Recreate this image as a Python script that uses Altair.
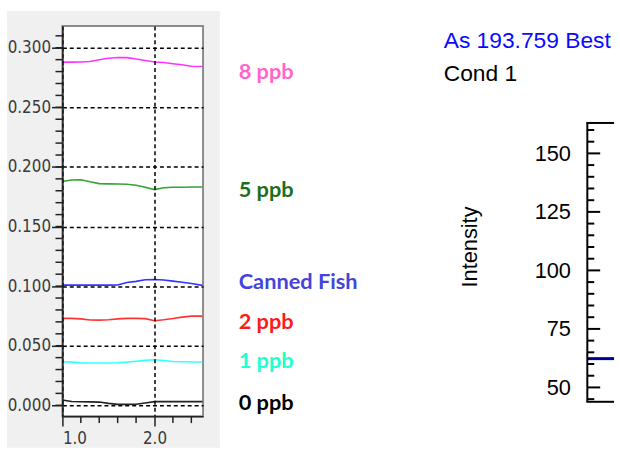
import altair as alt
import pandas as pd

# ---------------- data ----------------
x_vals = [1.0, 1.1, 1.2, 1.3, 1.4, 1.5, 1.6, 1.7, 1.8, 1.9, 2.0, 2.1, 2.2, 2.3, 2.4, 2.52]
ppb8 = [0.2879, 0.2879, 0.2880, 0.2885, 0.2900, 0.2912, 0.2918, 0.2917, 0.2905, 0.2893,
        0.2880, 0.2876, 0.2866, 0.2857, 0.2845, 0.2843]
ppb5 = [0.1878, 0.1890, 0.1892, 0.1875, 0.1860, 0.1858, 0.1857, 0.1855, 0.1846, 0.1830,
        0.1810, 0.1825, 0.1829, 0.1830, 0.1831, 0.1831]
canned = [0.1008, 0.1008, 0.1008, 0.1008, 0.1008, 0.1008, 0.1010, 0.1030, 0.1040, 0.1053,
          0.1056, 0.1052, 0.1042, 0.1032, 0.1022, 0.1006]
ppb2 = [0.0729, 0.0729, 0.0725, 0.0716, 0.0715, 0.0718, 0.0725, 0.0729, 0.0729, 0.0727,
        0.0710, 0.0718, 0.0728, 0.0740, 0.0748, 0.0748]
ppb1 = [0.0366, 0.0362, 0.0356, 0.0355, 0.0355, 0.0355, 0.0357, 0.0362, 0.0370, 0.0377,
        0.0382, 0.0376, 0.0368, 0.0365, 0.0363, 0.0363]
ppb0 = [0.0044, 0.0032, 0.0030, 0.0029, 0.0027, 0.0016, 0.0008, 0.0008, 0.0009, 0.0020,
        0.0031, 0.0031, 0.0031, 0.0031, 0.0031, 0.0031]

series_names = ["8 ppb", "5 ppb", "Canned  Fish", "2 ppb", "1 ppb", "0 ppb"]
series_values = [ppb8, ppb5, canned, ppb2, ppb1, ppb0]
line_colors = ["#ff33ff", "#33a333", "#3333ff", "#ff3333", "#33ffff", "#222222"]
label_colors = ["#ff66cc", "#1b6e1b", "#4444dd", "#ff1a1a", "#22ffcc", "#000000"]
label_y = [0.2737, 0.1748, 0.0973, 0.0640, 0.0316, -0.0039]

y_major = [0.0, 0.05, 0.1, 0.15, 0.2, 0.25, 0.3]
y_minor = [0.0, 0.01, 0.02, 0.03, 0.04, 0.05, 0.06, 0.07, 0.08, 0.09, 0.10, 0.11, 0.12,
           0.13, 0.14, 0.15, 0.16, 0.17, 0.18, 0.19, 0.20, 0.21, 0.22, 0.23, 0.24, 0.25,
           0.26, 0.27, 0.28, 0.29, 0.30, 0.31]
x_major = [1.0, 2.0]
x_minor = [1.2, 1.4, 1.6, 1.8, 2.2, 2.4]

right_title = "As 193.759 Best"
right_subtitle = "Cond 1"
right_major = [50, 75, 100, 125, 150]
right_minor = [45, 55, 60, 65, 70, 80, 85, 90, 95, 105, 110, 115, 120, 130, 135, 140,
               145, 155, 160]
right_box_top = [163.0]
right_line_x = [0.0, 1.0]
right_line_y = [62.3, 62.3]

# ---------------- tables ----------------
rows = []
for name, vals, col in zip(series_names, series_values, line_colors):
    for xv, yv in zip(x_vals, vals):
        rows.append({"x": xv, "y": yv, "series": name, "c": col})
lines_df = pd.DataFrame(rows)
labels_df = pd.DataFrame({"name": series_names, "ly": label_y, "c": label_colors})
one = pd.DataFrame({"k": [0]})

# ---------------- left panel ----------------
LW, LH = 142, 394
xs = alt.Scale(domain=[1.0, 2.527], nice=False, zero=False)
ys = alt.Scale(domain=[-0.0091, 0.3183], nice=False, zero=False)
narrow = "Liberation Sans Narrow, DejaVu Sans Condensed, Liberation Sans"

x_axis = alt.Axis(
    values=x_major, format=".1f", title=None, zindex=1,
    grid=True, gridColor="black", gridDash=[4, 3], gridWidth=1.5,
    domainColor="#222", domainWidth=1.5, tickColor="#222", tickWidth=1.5, tickSize=10,
    labelFont=narrow, labelFontSize=17, labelColor="#3a3a3a", labelPadding=5)
y_axis = alt.Axis(
    values=y_major, format=".3f", title=None, zindex=1,
    grid=True, gridColor="black", gridDash=[4, 3], gridWidth=1.5,
    domainColor="#222", domainWidth=1.5, tickColor="#222", tickWidth=1.5, tickSize=11,
    labelFont=narrow, labelFontSize=17, labelColor="#3a3a3a", labelPadding=1)

bg = alt.Chart(one).mark_rect(fill="#f0f0f0").encode(
    x=alt.value(-56), x2=alt.value(159), y=alt.value(-15), y2=alt.value(426))
spacer_l = alt.Chart(one).mark_rect(opacity=0).encode(
    x=alt.value(-56), x2=alt.value(385), y=alt.value(0), y2=alt.value(10))
white = alt.Chart(one).mark_rect(fill="white").encode(
    x=alt.value(0), x2=alt.value(LW), y=alt.value(0), y2=alt.value(LH))
frame = alt.Chart(one).mark_rect(fillOpacity=0, stroke="#8c8c8c", strokeWidth=2).encode(
    x=alt.value(0), x2=alt.value(LW), y=alt.value(0), y2=alt.value(LH))

lines = alt.Chart(lines_df).mark_line(strokeWidth=1.6).encode(
    x=alt.X("x:Q", scale=xs, axis=x_axis),
    y=alt.Y("y:Q", scale=ys, axis=y_axis),
    color=alt.Color("c:N", scale=None),
    detail="series:N",
)

yminor = alt.Chart(pd.DataFrame({"y": y_minor})).mark_rule(color="#222", strokeWidth=1.5).encode(
    y=alt.Y("y:Q", scale=ys, axis=y_axis), x=alt.value(-7), x2=alt.value(0))
xminor = alt.Chart(pd.DataFrame({"x": x_minor})).mark_rule(color="#222", strokeWidth=1.5).encode(
    x=alt.X("x:Q", scale=xs, axis=x_axis), y=alt.value(LH), y2=alt.value(LH + 7))

labels = alt.Chart(labels_df).mark_text(
    align="left", baseline="alphabetic", font="Lato", fontWeight="bold", fontSize=22).encode(
    x=alt.value(178), y=alt.Y("ly:Q", scale=ys, axis=y_axis), text="name:N",
    color=alt.Color("c:N", scale=None))

left = alt.layer(bg, spacer_l, white, frame, lines, yminor, xminor, labels).properties(
    width=LW, height=LH)

# ---------------- right panel ----------------
RW, RH = 27, 379.5
rxs = alt.Scale(domain=[0, 1], nice=False, zero=False)
rys = alt.Scale(domain=[43.86, 204.46], nice=False, zero=False)
r_axis = alt.Axis(
    values=right_major, title="Intensity", ticks=False, grid=False, domain=False,
    labelFont="Liberation Sans", labelFontSize=22, labelColor="black", labelPadding=17,
    titleFont="Liberation Sans", titleFontSize=22, titleFontWeight="normal",
    titleColor="black", titleAngle=270, titleAlign="center", titleBaseline="middle",
    titleX=-119, titleY=222.7)

spacer_r = alt.Chart(one).mark_rect(opacity=0).encode(
    x=alt.value(-145), x2=alt.value(0), y=alt.value(0), y2=alt.value(10))
t1 = alt.Chart(pd.DataFrame({"t": [right_title]})).mark_text(
    align="left", baseline="alphabetic", font="Liberation Sans", fontSize=23,
    color="#0a0aff").encode(x=alt.value(-145), y=alt.value(22), text="t:N")
t2 = alt.Chart(pd.DataFrame({"t": [right_subtitle]})).mark_text(
    align="left", baseline="alphabetic", font="Liberation Sans", fontSize=23,
    color="black").encode(x=alt.value(-145), y=alt.value(56), text="t:N")
rline = alt.Chart(pd.DataFrame({"x": right_line_x, "y": right_line_y})).mark_line(
    color="#00008c", strokeWidth=3).encode(
    x=alt.X("x:Q", scale=rxs, axis=None),
    y=alt.Y("y:Q", scale=rys, axis=r_axis))
rmajor = alt.Chart(pd.DataFrame({"y": right_major})).mark_rule(color="black", strokeWidth=2).encode(
    y=alt.Y("y:Q", scale=rys, axis=r_axis), x=alt.value(0), x2=alt.value(13))
rminor = alt.Chart(pd.DataFrame({"y": right_minor})).mark_rule(color="black", strokeWidth=2).encode(
    y=alt.Y("y:Q", scale=rys, axis=r_axis), x=alt.value(0), x2=alt.value(7))
rtop = alt.Chart(pd.DataFrame({"y": right_box_top})).mark_rule(color="black", strokeWidth=2).encode(
    x=alt.value(-1), x2=alt.value(RW), y=alt.Y("y:Q", scale=rys, axis=r_axis))
rleft = alt.Chart(pd.DataFrame({"y": right_box_top})).mark_rule(color="black", strokeWidth=2).encode(
    x=alt.value(0), y=alt.Y("y:Q", scale=rys, axis=r_axis), y2=alt.value(RH))
rbot = alt.Chart(one).mark_rule(color="black", strokeWidth=2).encode(
    x=alt.value(-1), x2=alt.value(RW), y=alt.value(RH))

right = alt.layer(spacer_r, t1, t2, rline, rmajor, rminor, rtop, rleft, rbot).properties(
    width=RW, height=RH)

chart = alt.hconcat(left, right, spacing=0).properties(
    padding={"left": 7, "top": 9, "right": 0, "bottom": 0}, background="white"
).configure_view(stroke=None)

chart.save("out.html", embed_options={"renderer": "svg", "actions": False})
